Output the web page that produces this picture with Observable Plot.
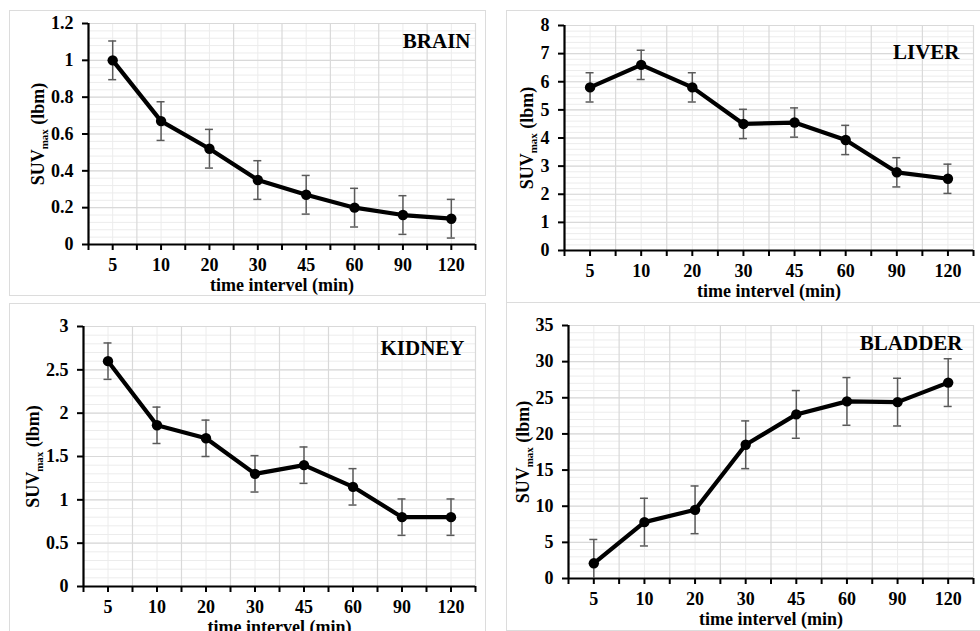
<!DOCTYPE html>
<html><head><meta charset="utf-8">
<script src="https://cdn.jsdelivr.net/npm/d3@7"></script>
<script src="https://cdn.jsdelivr.net/npm/@observablehq/plot@0.6"></script>
<style>
html,body{margin:0;padding:0;background:#fff;}
body{width:980px;height:631px;position:relative;overflow:hidden;}
.chart{position:absolute;}
.chart svg{display:block;overflow:visible;}
.frame{position:absolute;border:1.5px solid #dcdcdc;box-sizing:border-box;pointer-events:none;}
</style></head><body>
<script>
// ---- data ----
const times = ["5", "10", "20", "30", "45", "60", "90", "120"];

const brainSUV = [1.00, 0.67, 0.52, 0.35, 0.27, 0.20, 0.16, 0.14];
const brainErr = [0.105, 0.105, 0.105, 0.105, 0.105, 0.105, 0.105, 0.105];

const liverSUV = [5.80, 6.60, 5.80, 4.50, 4.55, 3.93, 2.78, 2.55];
const liverErr = [0.52, 0.52, 0.52, 0.52, 0.52, 0.52, 0.52, 0.52];

const kidneySUV = [2.60, 1.86, 1.71, 1.30, 1.40, 1.15, 0.80, 0.80];
const kidneyErr = [0.21, 0.21, 0.21, 0.21, 0.21, 0.21, 0.21, 0.21];

const bladderSUV = [2.1, 7.8, 9.5, 18.5, 22.7, 24.5, 24.4, 27.1];
const bladderErr = [3.3, 3.3, 3.3, 3.3, 3.3, 3.3, 3.3, 3.3];

const brainTicks = [0, 0.2, 0.4, 0.6, 0.8, 1, 1.2];
const liverTicks = [0, 1, 2, 3, 4, 5, 6, 7, 8];
const kidneyTicks = [0, 0.5, 1, 1.5, 2, 2.5, 3];
const bladderTicks = [0, 5, 10, 15, 20, 25, 30, 35];

const organs = ["BRAIN", "LIVER", "KIDNEY", "BLADDER"];
const xTitle = "time intervel (min)";
const yMain = "SUV", ySub = "max", yUnit = " (lbm)";
const yTitle = yMain + ySub + yUnit;

// ---- layout (pixels) ----
const SERIF = "'Liberation Serif','Times New Roman',Times,serif";
const layouts = [
  {box: [9, 10, 477, 285], frame: [9, 10, 477, 286], m: [13, 11, 51, 79], minor: 0.04, tDx: -5, tDy: 10, yDx: -50},
  {box: [506, 10, 474, 292], frame: [506, 10, 480, 293], m: [15, 7, 52, 58], minor: 0.2, tDx: -14, tDy: 19, yDx: -37},
  {box: [9, 303, 477, 328], frame: [9, 303, 477, 340], m: [23, 11, 45, 74], minor: 0.1, tDx: -11, tDy: 14, yDx: -50},
  {box: [506, 302, 474, 328], frame: [506, 302, 480, 329], m: [23, 7, 52, 62], minor: 1, tDx: -11, tDy: 10, yDx: -45}
];

function panel(name, values, errs, ticks, L) {
  const [bx, by, bw, bh] = L.box;
  const [mt, mr, mb, ml] = L.m;
  const rows = values.map((v, i) => ({i, v, lo: Math.max(0, v - errs[i]), hi: v + errs[i], loCap: v - errs[i] >= 0}));
  const ymax = ticks[ticks.length - 1];
  const nMinor = Math.round(ymax / L.minor);
  const minor = d3.range(nMinor + 1).map(k => k * L.minor);
  const idx = d3.range(times.length);
  const bounds = d3.range(times.length + 1).map(k => k - 0.5);
  const halfTicks = d3.range(2 * times.length + 1).map(k => k / 2 - 0.5);
  const errStyle = {stroke: "#5a5a5a", strokeWidth: 1.5};
  const chart = Plot.plot({
    width: bw, height: bh,
    marginTop: mt, marginRight: mr, marginBottom: mb, marginLeft: ml,
    style: {fontFamily: SERIF, fontSize: "18px", fontWeight: "bold", color: "#000", background: "transparent"},
    x: {type: "linear", domain: [-0.5, times.length - 0.5], ticks: idx, tickFormat: i => times[i], tickSize: 0, tickPadding: 14, label: null},
    y: {type: "linear", domain: [0, ymax], ticks: ticks, tickFormat: d => String(d), tickSize: 0, tickPadding: 15, label: null},
    marks: [
      Plot.ruleY(minor, {stroke: "#ececec", strokeWidth: 1}),
      Plot.ruleX(idx, {stroke: "#ececec", strokeWidth: 1}),
      Plot.ruleY(ticks, {stroke: "#d9d9d9", strokeWidth: 1.2}),
      Plot.ruleX(bounds, {stroke: "#d9d9d9", strokeWidth: 1.2}),
      Plot.ruleX([-0.5], {stroke: "#000", strokeWidth: 2.2}),
      Plot.ruleY([0], {stroke: "#000", strokeWidth: 2.2}),
      Plot.ruleY(ticks, {x1: -0.5, x2: -0.5, insetLeft: -6, stroke: "#000", strokeWidth: 2}),
      Plot.ruleX(halfTicks, {y1: 0, y2: 0, insetBottom: -6, stroke: "#000", strokeWidth: 2}),
      Plot.ruleX(rows, {x: "i", y1: "lo", y2: "hi", ...errStyle}),
      Plot.ruleY(rows, {y: "hi", x1: "i", x2: "i", insetLeft: -4, insetRight: -4, ...errStyle}),
      Plot.ruleY(rows.filter(r => r.loCap), {y: "lo", x1: "i", x2: "i", insetLeft: -4, insetRight: -4, ...errStyle}),
      Plot.line(rows, {x: "i", y: "v", stroke: "#000", strokeWidth: 4.2}),
      Plot.dot(rows, {x: "i", y: "v", r: 5.2, fill: "#000"}),
      Plot.text([name], {text: d => d, frameAnchor: "top-right", dx: L.tDx, dy: L.tDy, fontSize: 21, fontWeight: "bold", fill: "#000"}),
      Plot.text([xTitle], {text: d => d, frameAnchor: "bottom", lineAnchor: "middle", dy: 41, fontSize: 18, fontWeight: "bold", fill: "#000"}),
      Plot.text([yTitle], {text: d => d, frameAnchor: "left", rotate: -90, textAnchor: "middle", lineAnchor: "middle", dx: L.yDx, fontSize: 18, fontWeight: "bold", fill: "#000"})
    ]
  });
  // subscript for SUVmax
  const ns = "http://www.w3.org/2000/svg";
  chart.querySelectorAll("text").forEach(t => {
    if (t.textContent === yTitle) {
      t.textContent = "";
      const a = document.createElementNS(ns, "tspan"); a.textContent = yMain;
      const b = document.createElementNS(ns, "tspan"); b.textContent = ySub;
      b.setAttribute("font-size", "11"); b.setAttribute("dy", "4");
      const c = document.createElementNS(ns, "tspan"); c.textContent = yUnit; c.setAttribute("dy", "-4");
      t.append(a, b, c);
    }
  });
  const div = document.createElement("div");
  div.className = "chart";
  Object.assign(div.style, {left: bx + "px", top: by + "px", width: bw + "px", height: bh + "px"});
  div.append(chart);
  document.body.append(div);
  const f = document.createElement("div");
  f.className = "frame";
  const [fx, fy, fw, fh] = L.frame;
  Object.assign(f.style, {left: fx + "px", top: fy + "px", width: fw + "px", height: fh + "px"});
  document.body.append(f);
}

panel(organs[0], brainSUV, brainErr, brainTicks, layouts[0]);
panel(organs[1], liverSUV, liverErr, liverTicks, layouts[1]);
panel(organs[2], kidneySUV, kidneyErr, kidneyTicks, layouts[2]);
panel(organs[3], bladderSUV, bladderErr, bladderTicks, layouts[3]);
</script>
</body></html>
